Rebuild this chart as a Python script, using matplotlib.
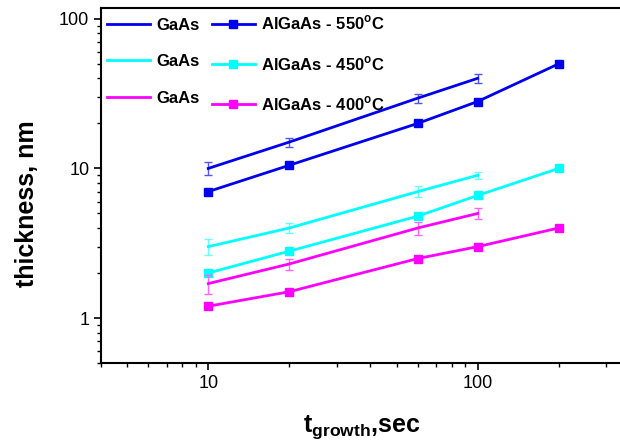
import matplotlib.pyplot as plt
import numpy as np

plt.rcParams['font.family'] = ['Liberation Sans', 'DejaVu Sans']

t_gaas = [10, 20, 60, 100]
t_algaas = [10, 20, 60, 100, 200]

gaas_550 = [10, 15, 29.5, 40]
gaas_550_err = [1.0, 1.0, 2.0, 3.0]
gaas_450 = [3.0, 4.0, 7.0, 9.0]
gaas_450_err = [0.35, 0.3, 0.6, 0.5]
gaas_400 = [1.7, 2.3, 4.0, 5.0]
gaas_400_err = [0.25, 0.2, 0.4, 0.4]

algaas_550 = [7.0, 10.5, 20, 28, 50]
algaas_450 = [2.0, 2.8, 4.8, 6.6, 10]
algaas_400 = [1.2, 1.5, 2.5, 3.0, 4.0]

colors = ['#0000ee', '#00ffff', '#ff00ff']
err_colors = ['#5555ee', '#66ffff', '#ff66ff']
temps = ['550', '450', '400']

fig = plt.figure(figsize=(6.2, 4.45), dpi=100)
ax = fig.add_axes([0.163, 0.184, 0.911, 0.798])

gaas = [gaas_550, gaas_450, gaas_400]
gaas_err = [gaas_550_err, gaas_450_err, gaas_400_err]
algaas = [algaas_550, algaas_450, algaas_400]

h_g = []
h_a = []
for i in range(3):
    ax.errorbar(t_gaas, gaas[i], yerr=gaas_err[i], fmt='none', ecolor=err_colors[i],
                elinewidth=1, capsize=3, capthick=1)
    l, = ax.plot(t_gaas, gaas[i], color=colors[i], lw=2, label='GaAs')
    h_g.append(l)
    l, = ax.plot(t_algaas, algaas[i], color=colors[i], lw=2, marker='s', ms=6,
                 label='AlGaAs - %s$^\\mathregular{o}$C' % temps[i])
    h_a.append(l)

ax.set_xscale('log')
ax.set_yscale('log')
ax.set_xlim(4, 500)
ax.set_ylim(0.5, 118)
ax.set_xticks([10, 100])
ax.set_xticklabels(['10', '100'])
ax.set_yticks([1, 10, 100])
ax.set_yticklabels(['1', '10', '100'])
ax.tick_params(which='major', direction='out', length=5, width=1.2, labelsize=13)
ax.tick_params(which='minor', direction='out', length=3, width=1)
for s in ['left', 'bottom', 'top']:
    ax.spines[s].set_linewidth(1.5)
ax.spines['right'].set_visible(False)

ax.set_xlabel('t$_{\\mathregular{growth}}$,sec', fontsize=18, fontweight='bold')
ax.xaxis.set_label_coords(0.462, -0.142)
ax.set_ylabel('thickness, nm', fontsize=18, fontweight='bold')
ax.yaxis.set_label_coords(-0.11, 0.45)

ax.legend(h_g + h_a, [h.get_label() for h in h_g + h_a], ncol=2, loc='upper left',
          frameon=False, prop={'weight': 'bold', 'size': 12}, handlelength=2.6,
          labelspacing=1.3, handletextpad=0.35, columnspacing=0.75,
          borderaxespad=0.1, borderpad=0.25)

plt.savefig('out.png', dpi=100)
